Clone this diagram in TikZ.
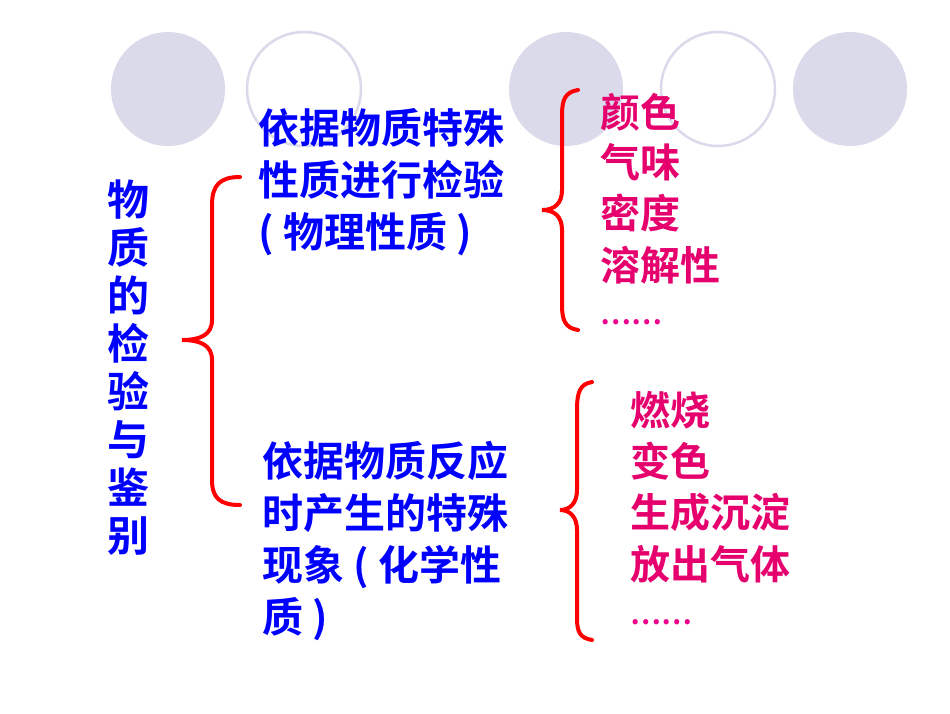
\documentclass[tikz,border=0pt]{standalone}
\usepackage{fontspec}
\newfontfamily\cjk{Noto Sans CJK SC Bold}
\begin{document}
\begin{tikzpicture}[x=1pt,y=-1pt,
  fillc/.style={fill=lav,draw=none},
  outc/.style={draw=lav,line width=2.5pt},
  brc/.style={draw=red,line width=4pt,line cap=round},
  bt/.style={text=blue,font=\cjk\fontsize{41}{52}\selectfont,anchor=west,align=left,inner sep=0},
  pt/.style={text=pinkc,font=\cjk\fontsize{40}{51.5}\selectfont,anchor=west,inner sep=0}]
\definecolor{lav}{RGB}{218,218,235}
\definecolor{pinkc}{RGB}{230,0,110}
\useasboundingbox[fill=white] (0,0) rectangle (950,713);
\fill[fillc] (168,89) circle (57);
\draw[outc] (304,89) circle (57);
\fill[fillc] (566,89) circle (57);
\draw[outc] (718,89) circle (57);
\fill[fillc] (850,89) circle (57);
% left title
\node[text=blue,font=\cjk\fontsize{42}{48}\selectfont,align=center,inner sep=0] (t) at (128,368)
 {物\\质\\的\\检\\验\\与\\鉴\\别};
% big brace
\draw[brc] (240,177) .. controls (220,177) and (212,185) .. (212,205) -- (212,320)
  .. controls (212,335) and (200,340) .. (182,340)
  .. controls (200,340) and (212,345) .. (212,360) -- (212,480)
  .. controls (212,498) and (220,505) .. (240,505);
\node[bt] (a) at (258,182) {依据物质特殊\\性质进行检验\\( 物理性质 )};
\node[bt] (b) at (262,541) {依据物质反应\\时产生的特殊\\现象 ( 化学性\\质 )};
% right top brace
\draw[brc] (578,90) .. controls (565,92) and (562,100) .. (562,115) -- (562,190)
  .. controls (562,203) and (555,210) .. (542,210)
  .. controls (555,210) and (562,217) .. (562,230) -- (562,305)
  .. controls (562,320) and (565,328) .. (578,330);
\node[pt] (p1) at (600,112) {颜色};
\node[pt] (p2) at (600,162) {气味};
\node[pt] (p3) at (600,213) {密度};
\node[pt] (p4) at (600,265) {溶解性};
\node[pt,text=magenta,font=\cjk\fontsize{28}{30}\selectfont] (p5) at (600,322) {……};
% right bottom brace
\draw[brc] (592,382) .. controls (580,384) and (577,392) .. (577,410) -- (577,490)
  .. controls (577,503) and (570,510) .. (560,510)
  .. controls (570,510) and (577,517) .. (577,530) -- (577,618)
  .. controls (577,632) and (580,638) .. (592,640);
\node[pt] (q1) at (630,410) {燃烧};
\node[pt] (q2) at (630,461) {变色};
\node[pt] (q3) at (630,512) {生成沉淀};
\node[pt] (q4) at (630,564) {放出气体};
\node[pt,text=magenta,font=\cjk\fontsize{28}{30}\selectfont] (q5) at (630,622) {……};
\end{tikzpicture}
\end{document}
